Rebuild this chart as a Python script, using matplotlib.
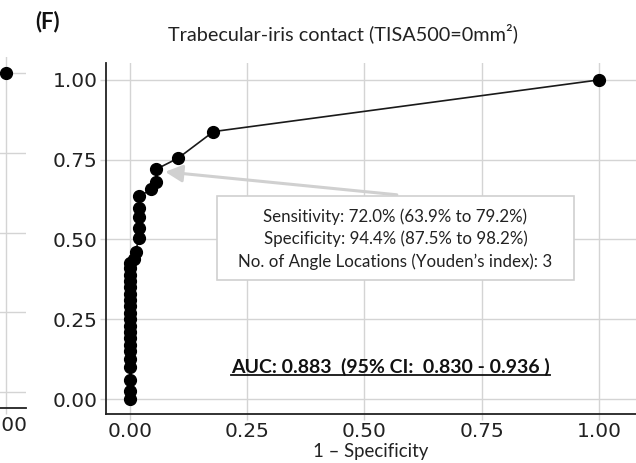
import matplotlib
matplotlib.use("Agg")
import matplotlib.pyplot as plt
from matplotlib.lines import Line2D
from matplotlib.patches import Rectangle

# ROC points, TISA500 = 0 mm2 (panel F)
fpr = [0.0, 0.0, 0.0, 0.0, 0.0, 0.0, 0.0, 0.0, 0.0, 0.0,
       0.0, 0.0, 0.0, 0.0, 0.0, 0.0, 0.0, 0.0, 0.0, 0.0,
       0.009, 0.012, 0.019, 0.019, 0.019, 0.019, 0.019,
       0.046, 0.056, 0.056, 0.103, 0.178, 1.0]
tpr = [0.0, 0.025, 0.06, 0.10, 0.125, 0.15, 0.17, 0.19, 0.21, 0.23,
       0.25, 0.27, 0.29, 0.31, 0.33, 0.35, 0.37, 0.39, 0.41, 0.425,
       0.44, 0.46, 0.505, 0.535, 0.57, 0.60, 0.635,
       0.657, 0.68, 0.72, 0.755, 0.838, 1.0]

# neighbouring panel (E), only its right edge shows
fpr_e = [1.0]
tpr_e = [1.0]

ticks = [0.0, 0.25, 0.5, 0.75, 1.0]
tick_labels = ["0.00", "0.25", "0.50", "0.75", "1.00"]

cut_fpr = 0.056
cut_tpr = 0.72
box_lines = ["Sensitivity: 72.0% (63.9% to 79.2%)",
             "Specificity: 94.4% (87.5% to 98.2%)",
             "No. of Angle Locations (Youden\u2019s index): 3"]
auc_text = "AUC: 0.883  (95% CI:  0.830 - 0.936 )"

txt_font = "Lato"
grid_col = "#d4d4d4"


def style_axes(ax):
    ax.set_xticks(ticks)
    ax.set_yticks(ticks)
    ax.set_xticklabels(tick_labels, fontsize=14.5, color="#222222")
    ax.set_yticklabels(tick_labels, fontsize=14.5, color="#222222")
    ax.grid(True, color=grid_col, linewidth=1)
    ax.set_axisbelow(True)
    ax.tick_params(length=4, width=1, color=grid_col, pad=2)
    for s in ["top", "right"]:
        ax.spines[s].set_visible(False)
    for s in ["left", "bottom"]:
        ax.spines[s].set_color("#222222")
        ax.spines[s].set_linewidth(1.3)


fig = plt.figure(figsize=(6.36, 4.63), dpi=100)
W, H = 636.0, 463.0

# panel E, mostly outside the figure
ax_e = fig.add_axes([-400 / W, (H - 408) / H, 426 / W, 351 / H])
ax_e.plot(fpr_e, tpr_e, "o", color="black", markersize=8.5, clip_on=False)
ax_e.set_xlim(0.142, 1.05)
ax_e.set_ylim(-0.05, 1.05)
style_axes(ax_e)
ax_e.spines["left"].set_visible(False)

# panel F
ax = fig.add_axes([106 / W, (H - 414) / H, 530 / W, 351 / H])
ax.plot(fpr, tpr, "-", color="#1a1a1a", linewidth=1.2, zorder=2)
ax.plot(fpr, tpr, "o", color="black", markersize=8.5, zorder=3, clip_on=False)
ax.set_xlim(-0.051, 1.079)
ax.set_ylim(-0.047, 1.053)
style_axes(ax)
ax.set_xlabel("1 \u2013 Specificity", fontsize=13.4, family=txt_font,
              labelpad=1, color="#222222")

# arrow to the Youden cut-off
ax.annotate("", xy=(cut_fpr + 0.019, cut_tpr - 0.008), xytext=(0.569, 0.64),
            arrowprops=dict(arrowstyle="-|>", color="#d0d0d0", lw=2.2,
                            mutation_scale=26, shrinkA=0, shrinkB=0),
            zorder=4)

ax.add_patch(Rectangle((0.185, 0.373), 0.762, 0.263, facecolor="white",
                       edgecolor="#d0d0d0", linewidth=1.2, zorder=5))
for i, line in enumerate(box_lines):
    ax.text(0.566, 0.571 - i * 0.07, line, ha="center", va="center",
            fontsize=12.2, family=txt_font, color="#222222", zorder=6)

auc = ax.text(0.555, 0.10, auc_text, ha="center", va="center",
              fontsize=14, fontweight="bold", family=txt_font,
              color="#111111", zorder=6)

fig.text(343 / W, 1 - 33 / H, "Trabecular-iris contact (TISA500=0mm\u00b2)",
         ha="center", va="center", fontsize=14.3, family=txt_font,
         color="#222222")
fig.text(48 / W, 1 - 22 / H, "(F)", ha="center", va="center", fontsize=16,
         fontweight="bold", family=txt_font, color="#111111")

# underline the AUC line
fig.canvas.draw()
bb = auc.get_window_extent(fig.canvas.get_renderer())
inv = fig.transFigure.inverted()
(x0, y0), (x1, _) = inv.transform([(bb.x0, bb.y0 + 1), (bb.x1, bb.y0)])
fig.add_artist(Line2D([x0, x1], [y0, y0], color="#111111", linewidth=1.3,
                      transform=fig.transFigure))

fig.savefig("out.png", dpi=100)
